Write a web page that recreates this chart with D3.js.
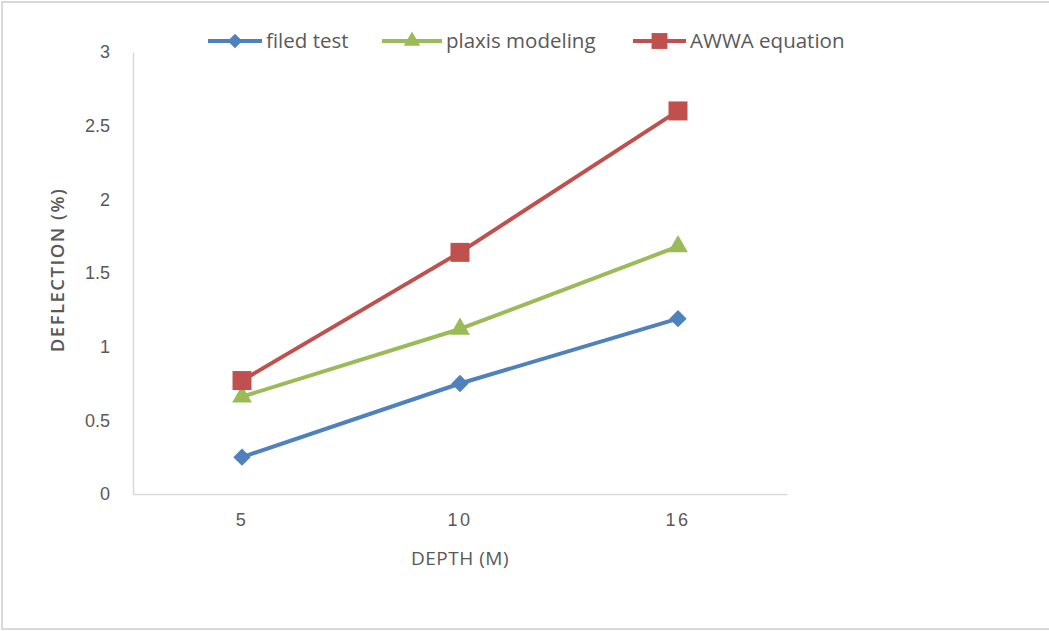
<!DOCTYPE html>
<html>
<head>
<meta charset="utf-8">
<script src="https://cdn.jsdelivr.net/npm/d3@7"></script>
<style>
  html, body { margin: 0; padding: 0; background: #fff; }
  svg { display: block; font-family: "Open Sans", "Noto Sans", sans-serif; }
</style>
</head>
<body>
<svg id="chart" width="1049" height="631"></svg>
<script>
// Depth categories (m) and deflection (%) for each method
const depths = ["5", "10", "16"];
const filedTest = [0.25, 0.75, 1.19];
const plaxisModeling = [0.66, 1.12, 1.68];
const awwaEquation = [0.77, 1.64, 2.6];
const yTicks = [0, 0.5, 1, 1.5, 2, 2.5, 3];
const seriesNames = ["filed test", "plaxis modeling", "AWWA equation"];

// diamond drawn as a square turned 45 degrees
const diamondSym = {
  draw(ctx, size) {
    const r = Math.sqrt(size / 2);
    ctx.moveTo(0, -r); ctx.lineTo(r, 0); ctx.lineTo(0, r); ctx.lineTo(-r, 0); ctx.closePath();
  }
};

const series = [
  { name: seriesNames[0], values: filedTest, color: "#4F81BD", symbol: diamondSym, size: 150 },
  { name: seriesNames[1], values: plaxisModeling, color: "#9BBB59", symbol: d3.symbolTriangle, size: 170 },
  { name: seriesNames[2], values: awwaEquation, color: "#C0504D", symbol: d3.symbolSquare, size: 360 }
];

const svg = d3.select("#chart");

// outer chart frame
svg.append("rect")
  .attr("x", 2).attr("y", 2).attr("width", 1060).attr("height", 627)
  .attr("fill", "none").attr("stroke", "#d9d9d9").attr("stroke-width", 2);

const plot = { left: 133, right: 787, top: 52, bottom: 494 };

const x = d3.scaleBand().domain(depths).range([plot.left, plot.right]);
const y = d3.scaleLinear().domain([0, 3]).range([plot.bottom, plot.top]);

// axes
const yAxis = svg.append("g")
  .attr("transform", `translate(${plot.left},0)`)
  .call(d3.axisLeft(y).tickValues(yTicks).tickSize(0).tickPadding(23).tickFormat(d3.format("")));
yAxis.select(".domain").attr("stroke", "#d9d9d9").attr("stroke-width", 1.5);
yAxis.selectAll("text").attr("fill", "#595959").style("font-size", "18px");

const xAxis = svg.append("g")
  .attr("transform", `translate(0,${plot.bottom})`)
  .call(d3.axisBottom(x).tickSize(0).tickPadding(19));
xAxis.select(".domain").attr("stroke", "#d9d9d9").attr("stroke-width", 1.5);
xAxis.selectAll("text").attr("fill", "#595959").style("font-size", "18px").style("letter-spacing", "2.5px");

// axis titles
svg.append("text")
  .attr("x", (plot.left + plot.right) / 2).attr("y", 565)
  .attr("text-anchor", "middle").attr("fill", "#595959")
  .style("font-size", "19px").style("letter-spacing", "0.5px")
  .text("DEPTH (M)");

svg.append("text")
  .attr("transform", `translate(64,${(plot.top + plot.bottom) / 2 - 3}) rotate(-90)`)
  .attr("text-anchor", "middle").attr("fill", "#595959")
  .style("font-size", "18.5px").style("font-weight", "600").style("letter-spacing", "1.5px")
  .text("DEFLECTION (%)");

// series lines and markers
const line = d3.line()
  .x((d, i) => x(depths[i]) + x.bandwidth() / 2)
  .y(d => y(d));

series.forEach(s => {
  svg.append("path")
    .datum(s.values)
    .attr("d", line)
    .attr("fill", "none")
    .attr("stroke", s.color)
    .attr("stroke-width", 4)
    .attr("stroke-linejoin", "round");

  svg.append("g").selectAll("path")
    .data(s.values)
    .join("path")
    .attr("transform", (d, i) => `translate(${x(depths[i]) + x.bandwidth() / 2},${y(d)})`)
    .attr("d", d3.symbol().type(s.symbol).size(s.size))
    .attr("fill", s.color);
});

// legend
const legendItems = [
  { x: 208, textX: 266 },
  { x: 382, textX: 446 },
  { x: 633, textX: 690 }
];
const legendY = 41;
series.forEach((s, i) => {
  const li = legendItems[i];
  const g = svg.append("g");
  const x1 = li.x, x2 = li.textX - 4;
  g.append("line")
    .attr("x1", x1).attr("x2", x2).attr("y1", legendY).attr("y2", legendY)
    .attr("stroke", s.color).attr("stroke-width", 4);
  g.append("path")
    .attr("transform", `translate(${(x1 + x2) / 2},${legendY})`)
    .attr("d", d3.symbol().type(s.symbol).size(s.size * 0.7))
    .attr("fill", s.color);
  g.append("text")
    .attr("x", li.textX).attr("y", legendY)
    .attr("dy", "0.35em")
    .attr("fill", "#595959")
    .style("font-size", "20.5px")
    .text(s.name);
});
</script>
</body>
</html>
